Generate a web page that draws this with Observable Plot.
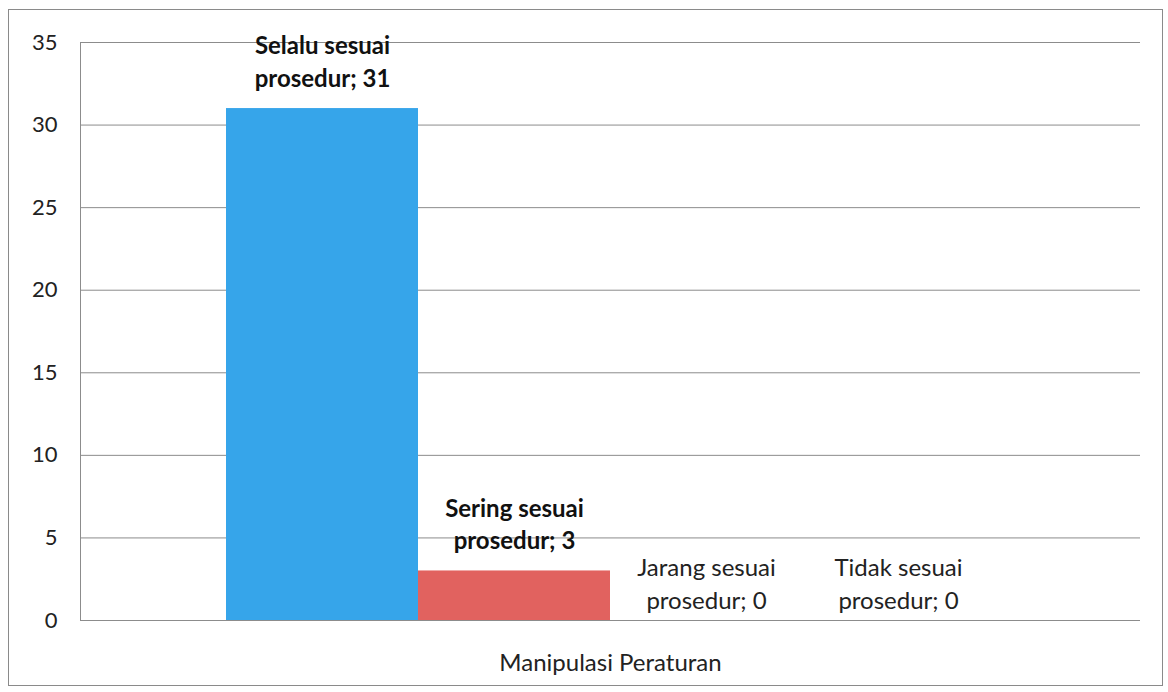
<!DOCTYPE html>
<html><head><meta charset="utf-8">
<script src="https://cdn.jsdelivr.net/npm/d3@7"></script>
<script src="https://cdn.jsdelivr.net/npm/@observablehq/plot@0.6"></script>
<style>
html,body{margin:0;padding:0;background:#fff;}
#wrap{position:relative;width:1168px;height:692px;overflow:hidden;}
#frame{position:absolute;left:8px;top:9px;width:1155px;height:677px;border:1.5px solid #8a8a8a;box-sizing:border-box;}
#chart{position:absolute;left:0;top:0;}
</style></head>
<body><div id="wrap"><div id="frame"></div><div id="chart"></div></div>
<script>
const series = ["Selalu sesuai prosedur", "Sering sesuai prosedur", "Jarang sesuai prosedur", "Tidak sesuai prosedur"];
const values = [31, 3, 0, 0];
const colors = ["#36a5ea", "#e1625f", "#9bbb59", "#8064a2"];
const category = "Manipulasi Peraturan";
const yTicks = [0, 5, 10, 15, 20, 25, 30, 35];

const data = series.map((s, i) => ({series: s, value: values[i], label: s.replace(" prosedur", "\nprosedur; ") + values[i]}));
const font = "Lato, 'Open Sans', sans-serif";

const chart = Plot.plot({
  width: 1168, height: 692,
  marginLeft: 80, marginRight: 28, marginTop: 42, marginBottom: 72,
  style: {fontFamily: font, fontSize: "22px", color: "#222", background: "transparent"},
  x: {domain: series, paddingInner: 0, paddingOuter: 0.76, axis: null},
  y: {domain: [0, 35], ticks: yTicks, grid: false, label: null, tickSize: 0, tickPadding: 23},
  color: {domain: series, range: colors},
  marks: [
    Plot.gridY(yTicks, {stroke: "#8c8c8c", strokeOpacity: 1, strokeWidth: 1}),
    Plot.frame({anchor: "left", stroke: "#8c8c8c"}),
    Plot.barY(data, {x: "series", y: "value", fill: "series"}),
    Plot.text(data.filter(d => d.value > 0), {x: "series", y: "value", text: "label", lineAnchor: "bottom", dy: -22, fontWeight: "bold", fontSize: 24, lineHeight: 1.35, fill: "#111"}),
    Plot.text(data.filter(d => d.value === 0), {x: "series", y: "value", text: "label", lineAnchor: "bottom", dy: -12, fontSize: 24, lineHeight: 1.35, fill: "#222"}),
    Plot.text([category], {frameAnchor: "bottom", lineAnchor: "bottom", dy: 50, text: d => d, fontSize: 24, fill: "#222"})
  ]
});
document.getElementById("chart").appendChild(chart);
</script></body></html>
